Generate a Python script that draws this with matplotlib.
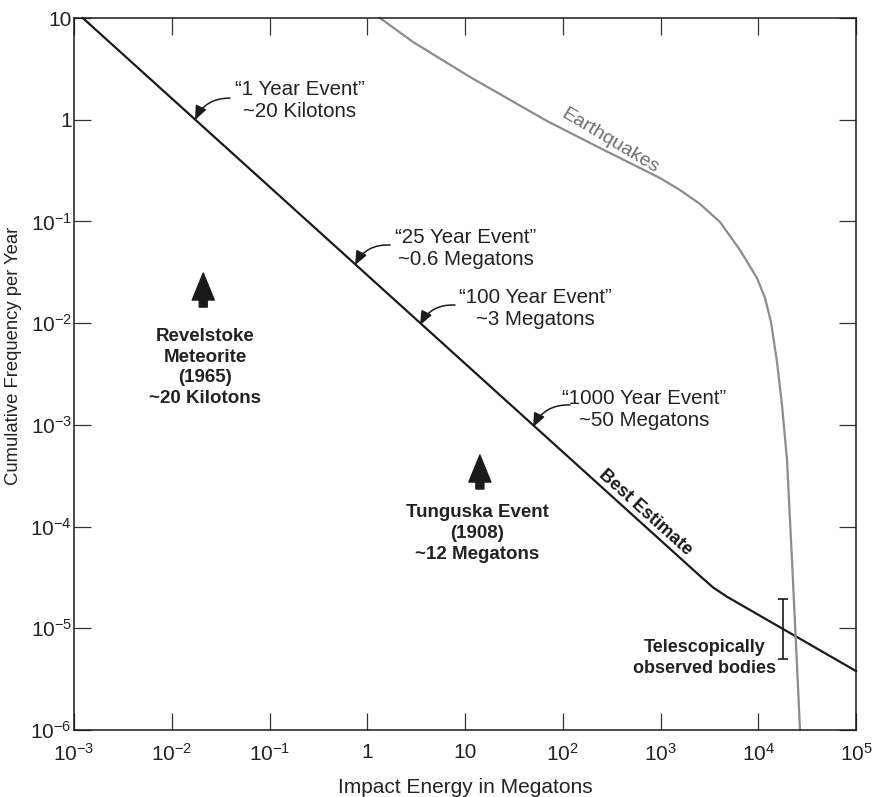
import matplotlib
matplotlib.use("Agg")
import matplotlib.pyplot as plt
from matplotlib.ticker import FixedLocator, FixedFormatter, NullLocator

FONT = "Liberation Sans"
plt.rcParams["font.family"] = [FONT, "DejaVu Sans"]
plt.rcParams["mathtext.fontset"] = "custom"
plt.rcParams["mathtext.rm"] = FONT
plt.rcParams["mathtext.it"] = FONT + ":italic"
plt.rcParams["mathtext.bf"] = FONT + ":bold"

# ---------------- data ----------------
best_energy = [1.23e-3, 2.5e3, 3.47e3, 4.8e3, 1e5]
best_freq = [10, 3.31e-5, 2.51e-5, 2.04e-5, 3.8e-6]

quake_energy = [1.35, 2.94, 11.25, 69.0, 240.5, 988, 1583, 2536, 4063, 6507,
                9710, 11726, 13503, 15553, 17500, 19690, 22140, 24910, 26740]
quake_freq = [10, 5.81, 2.63, 0.971, 0.527, 0.267, 0.2036, 0.1483, 0.0986, 0.0523,
              0.02777, 0.01765, 0.01025, 0.004144, 0.001565, 4.507e-4, 4.68e-5,
              4.345e-6, 1e-6]

# telescopic error bar
tele_energy = 1.78e4
tele_low, tele_high = 5.0e-6, 1.94e-5

x_ticks = [1e-3, 1e-2, 1e-1, 1, 10, 1e2, 1e3, 1e4, 1e5]
x_labels = [r"$10^{-3}$", r"$10^{-2}$", r"$10^{-1}$", "1", "10",
            r"$10^{2}$", r"$10^{3}$", r"$10^{4}$", r"$10^{5}$"]
y_ticks = [1e-6, 1e-5, 1e-4, 1e-3, 1e-2, 1e-1, 1, 10]
y_labels = [r"$10^{-6}$", r"$10^{-5}$", r"$10^{-4}$", r"$10^{-3}$",
            r"$10^{-2}$", r"$10^{-1}$", "1", "10"]

# event annotations: (text, text position, arrow start, arrow tip)
events = [
    ("\u201c1 Year Event\u201d\n~20 Kilotons", (0.205, 1.53), (0.0394, 1.63), (0.0173, 0.993)),
    ("\u201c25 Year Event\u201d\n~0.6 Megatons", (10.2, 0.0547), (1.71, 0.0586), (0.75, 0.0372)),
    ("\u201c100 Year Event\u201d\n~3 Megatons", (52, 0.0139), (7.9, 0.01506), (3.47, 0.00957)),
    ("\u201c1000 Year Event\u201d\n~50 Megatons", (676, 0.00143), (118.6, 0.00157), (49.7, 0.00095)),
]

# historic impacts: (text, text position, arrow x, arrow bottom, arrow top)
impacts = [
    ("Revelstoke\nMeteorite\n(1965)\n~20 Kilotons", (0.0219, 0.00366), 0.021, 0.01439, 0.0311),
    ("Tunguska Event\n(1908)\n~12 Megatons", (13.3, 8.6e-5), 14.2, 2.34e-4, 5.05e-4),
]

# ---------------- plot ----------------
fig = plt.figure(figsize=(8.76, 7.97), dpi=100)
ax = fig.add_axes([74 / 876, 1 - 730 / 797, (856 - 74) / 876, (730 - 18) / 797])
ax.set_xscale("log")
ax.set_yscale("log")
ax.set_xlim(1e-3, 1e5)
ax.set_ylim(1e-6, 10)

BLACK = "#1a1a1a"
GREY = "#8c8c8c"
TEXT = "#222222"

ax.plot(best_energy, best_freq, color=BLACK, lw=1.6, clip_on=False)
ax.plot(quake_energy, quake_freq, color=GREY, lw=1.6, clip_on=False)

mid = (tele_low * tele_high) ** 0.5
ax.errorbar([tele_energy], [mid], yerr=[[mid - tele_low], [tele_high - mid]],
            fmt="none", ecolor=BLACK, elinewidth=1.2, capsize=3.3, capthick=1.2)

for txt, tpos, start, tip in events:
    ax.text(tpos[0], tpos[1], txt, ha="center", va="center", fontsize=14.8,
            color=TEXT, linespacing=1.2, multialignment="center")
    ax.annotate("", xy=tip, xytext=start,
                arrowprops=dict(arrowstyle="-|>,head_length=0.6,head_width=0.25",
                                connectionstyle="arc3,rad=0.32", color=BLACK, lw=1.1,
                                shrinkA=0, shrinkB=0, mutation_scale=14))

for txt, tpos, ax_x, ybot, ytop in impacts:
    ax.text(tpos[0], tpos[1], txt, ha="center", va="center", fontsize=13.5,
            fontweight="bold", color=TEXT, linespacing=1.3, multialignment="center")
    ax.annotate("", xy=(ax_x, ytop), xytext=(ax_x, ybot),
                arrowprops=dict(arrowstyle="simple,head_length=1.35,head_width=1.1,tail_width=0.4",
                                color=BLACK, shrinkA=0, shrinkB=0, mutation_scale=14.4))

ax.text(693, 1.36e-4, "Best Estimate", rotation=-42, ha="center", va="center",
        fontsize=13, fontweight="bold", color=BLACK, rotation_mode="anchor")
ax.text(306, 0.62, "Earthquakes", rotation=-31, ha="center", va="center",
        fontsize=14, color="#6e6e6e", rotation_mode="anchor")
ax.text(2850, 5.09e-6, "Telescopically\nobserved bodies", ha="center", va="center",
        fontsize=13, fontweight="bold", color=TEXT, linespacing=1.25)

ax.xaxis.set_major_locator(FixedLocator(x_ticks))
ax.xaxis.set_major_formatter(FixedFormatter(x_labels))
ax.yaxis.set_major_locator(FixedLocator(y_ticks))
ax.yaxis.set_major_formatter(FixedFormatter(y_labels))
ax.xaxis.set_minor_locator(NullLocator())
ax.yaxis.set_minor_locator(NullLocator())

ax.tick_params(which="major", direction="in", length=12, width=0.9, color="#333333",
               top=True, right=True, labelsize=15, labelcolor=TEXT)
ax.tick_params(axis="x", pad=9)
ax.tick_params(axis="y", pad=1.5)
for s in ax.spines.values():
    s.set_linewidth(1.1)
    s.set_color(BLACK)

ax.set_xlabel("Impact Energy in Megatons", fontsize=15, color=TEXT, labelpad=10)
ax.set_ylabel("Cumulative Frequency per Year", fontsize=13.3, color=TEXT)
ax.yaxis.set_label_coords(-0.066, 0.525)

fig.savefig("out.png", dpi=100)
